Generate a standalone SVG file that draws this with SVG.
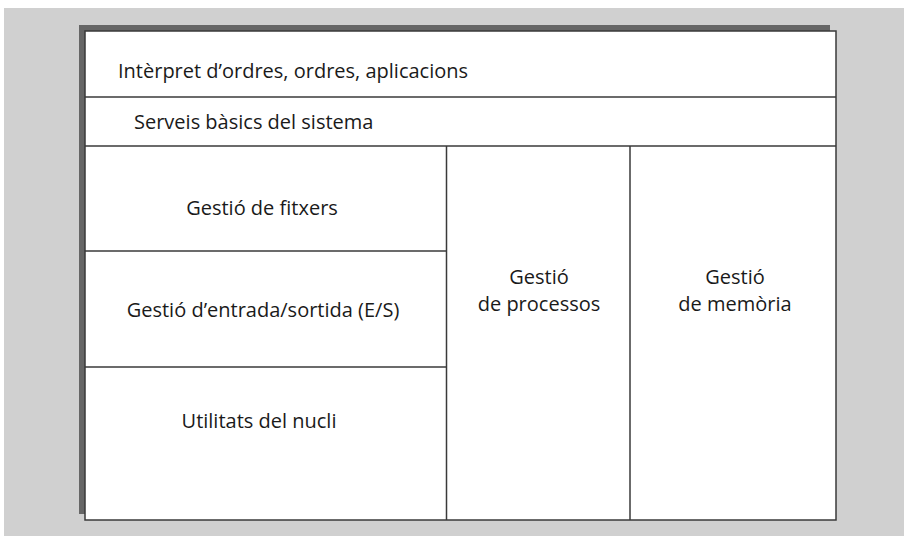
<svg xmlns="http://www.w3.org/2000/svg" width="904" height="536" viewBox="0 0 904 536">
<style>
.t{font-family:"Open Sans","Noto Sans","Liberation Sans",sans-serif;font-size:20px;fill:#1a1a1a}
.c{text-anchor:middle}
.ln{stroke:#3a3a3a;stroke-width:1.5;fill:none}
</style>
<rect x="0" y="0" width="904" height="536" fill="#ffffff"/>
<rect x="4" y="8" width="900" height="528" fill="#d0d0d0"/>
<rect x="79" y="25" width="751" height="489" fill="#666666"/>
<rect id="frame" x="85" y="31" width="751" height="489" fill="#ffffff" stroke="#3a3a3a" stroke-width="1.5"/>
<g id="connectors">
<line class="ln" x1="85" y1="97" x2="836" y2="97"/>
<line class="ln" x1="85" y1="146" x2="836" y2="146"/>
<line class="ln" x1="446.5" y1="146" x2="446.5" y2="520"/>
<line class="ln" x1="630" y1="146" x2="630" y2="520"/>
<line class="ln" x1="85" y1="251" x2="446.5" y2="251"/>
<line class="ln" x1="85" y1="367" x2="446.5" y2="367"/>
</g>
<g id="interpret"><text class="t" x="118" y="78">Intèrpret d’ordres, ordres, aplicacions</text></g>
<g id="serveis"><text class="t" x="134" y="129">Serveis bàsics del sistema</text></g>
<g id="fitxers"><text class="t c" x="262" y="215">Gestió de fitxers</text></g>
<g id="es"><text class="t c" x="263" y="317">Gestió d’entrada/sortida (E/S)</text></g>
<g id="nucli"><text class="t c" x="259" y="428">Utilitats del nucli</text></g>
<g id="processos"><text class="t c" x="539" y="284">Gestió</text><text class="t c" x="539" y="311">de processos</text></g>
<g id="memoria"><text class="t c" x="735" y="284">Gestió</text><text class="t c" x="735" y="311">de memòria</text></g>
</svg>
